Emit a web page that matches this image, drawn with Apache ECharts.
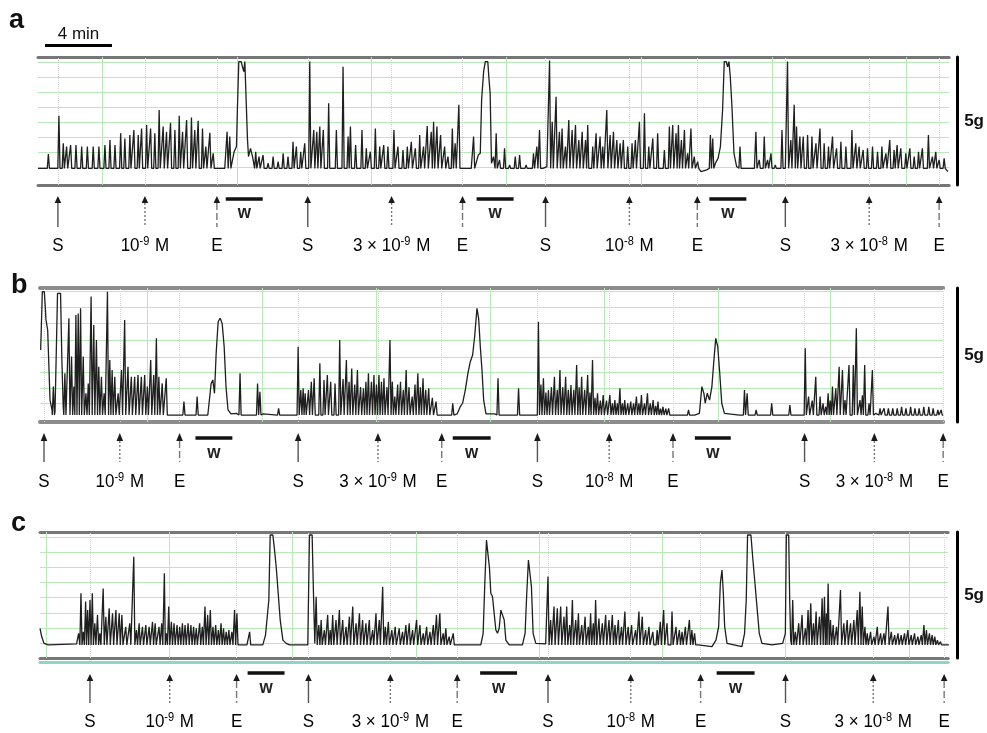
<!DOCTYPE html>
<html>
<head>
<meta charset="utf-8">
<script src="https://cdn.jsdelivr.net/npm/echarts/dist/echarts.min.js"></script>
<style>html,body{margin:0;padding:0;background:#fff}#chart{width:987px;height:733px}</style>
</head>
<body>
<div id="chart"></div>
<script>
// ---------------- DATA (time in min from left edge of each trace, force in g) ----------------
const eventKinds  = ['S','C','E','S','C','E','S','C','E','S','C','E'];
const eventLabels = ['S','10|-9','E','S','3 × 10|-9','E','S','10|-8','E','S','3 × 10|-8','E'];
const forceScaleG = 5;          // vertical scale bar
const timeScaleMin = 4;         // horizontal scale bar
const timeScaleStart = 0.42;

// ---- panel a
const aEvents = [1.19, 6.39, 10.69, 16.12, 21.13, 25.37, 30.33, 35.34, 39.40, 44.66, 49.67, 53.85];
const aWash = [[11.22, 13.43], [26.21, 28.42], [40.12, 42.33]];
const aBase = 0.65;
const aSpikes = [[0.62,1.21],[1.25,2.70],[1.51,1.63],[1.71,1.50],[1.95,1.56],[2.27,1.56],[2.61,1.50],[2.95,1.50],[3.30,1.50],[3.64,1.50],[4.00,1.56],[4.30,1.76],[4.60,1.56],[4.94,2.02],[5.19,1.82],[5.49,1.95],[5.73,2.15],[5.99,1.95],[6.19,2.21],[6.49,2.34],[6.73,2.21],[6.98,2.02],[7.24,2.93],[7.48,2.28],[7.68,2.08],[7.92,2.43],[8.18,2.15],[8.44,2.70],[8.64,2.08],[8.88,2.54],[9.17,2.64],[9.37,2.15],[9.57,2.51],[9.83,2.21],[10.03,1.50],[10.27,2.04],[10.47,1.24],
  [11.30,2.08],[11.46,1.89],
  [13.01,1.30],[13.21,1.11],[13.45,1.17],[13.75,0.85],[14.05,1.11],[14.35,0.91],[14.65,1.24],[14.94,1.11],[15.24,1.69],[15.44,1.50],[15.70,1.30],[15.94,1.63],
  [16.24,4.82],[16.48,2.15],[16.66,2.08],[16.84,2.28],[17.05,2.15],[17.37,3.19],[17.83,2.15],[18.23,4.62],[18.53,1.89],[18.67,2.28],[18.98,1.56],[19.36,2.15],[19.62,1.43],[19.86,1.30],[20.16,2.21],[20.42,1.50],[20.66,1.56],[20.91,1.50],[21.27,2.15],[21.51,1.50],[21.81,1.37],[22.07,1.50],[22.31,1.69],[22.55,1.43],[22.81,1.95],[23.04,1.50],[23.26,2.30],[23.50,2.08],[23.64,2.47],[23.84,2.28],[24.06,1.95],[24.30,1.50],[24.50,1.11],[24.76,2.21],[24.93,1.63],[25.15,3.13],
  [26.03,1.89],
  [27.38,2.02],[27.58,0.98],[27.88,1.43],[28.18,0.78],[28.52,1.11],[28.78,1.17],[29.17,0.78],[29.61,1.24],[29.81,1.50],[29.97,2.15],
  [30.57,4.86],[30.73,2.47],[30.96,3.45],[31.16,2.08],[31.32,2.21],[31.52,1.50],[31.72,2.54],[31.92,2.15],[32.12,2.34],[32.32,1.76],[32.52,2.08],[32.72,1.76],[32.85,2.34],[33.15,1.50],[33.35,2.02],[33.59,1.89],[33.75,1.50],[33.99,2.93],[34.19,1.95],[34.39,2.08],[34.59,1.76],[34.79,1.63],[34.98,1.76],[35.24,1.50],[35.50,1.63],[35.70,1.76],[35.94,2.47],[36.24,2.80],[36.50,1.50],[36.74,1.82],[37.03,2.02],[37.43,1.37],[37.73,2.28],[37.93,2.34],[38.13,2.02],[38.27,2.34],[38.45,1.76],[38.63,2.15],[38.82,1.24],[39.02,2.21],[39.22,1.11],[39.42,0.91],
  [40.18,1.95],[40.32,1.82],
  [41.95,1.50],
  [42.90,2.08],[43.10,0.98],[43.40,1.89],[43.60,0.98],[43.80,1.24],[44.06,0.78],[44.46,2.15],
  [44.79,4.82],[44.99,1.76],[45.19,3.13],[45.33,2.28],[45.53,1.89],[45.73,1.89],[45.99,1.95],[46.25,1.89],[46.49,1.63],[46.73,2.21],[46.98,1.63],[47.24,1.50],[47.48,1.89],[47.72,1.43],[47.98,1.69],[48.28,1.50],[48.64,2.15],[48.87,1.63],[49.07,1.50],[49.31,1.37],[49.57,1.43],[49.87,1.50],[50.17,1.30],[50.43,1.50],[50.67,1.24],[50.90,1.76],[51.16,1.37],[51.34,1.56],[51.56,1.43],[51.86,1.24],[52.10,1.43],[52.36,1.11],[52.62,1.30],[52.85,1.43],[53.21,1.95],[53.45,1.11],[53.65,1.30],[53.85,0.98],[54.15,1.04]];
const aPath = [[0,0.65],[10.67,0.65],[11.16,0.65],[11.60,0.72],[11.72,1.30],[11.86,1.50],[11.92,3.06],[12.00,4.82],[12.14,4.82],[12.22,4.62],[12.30,4.43],[12.36,4.82],[12.46,4.82],[12.52,1.76],[12.58,1.11],[12.70,1.43],[12.82,1.11],
  [25.31,0.65],[25.89,0.65],[26.31,1.17],[26.43,1.24],[26.51,3.32],[26.63,4.43],[26.73,4.82],[26.88,4.82],[26.94,4.23],[27.02,3.58],[27.10,0.85],[27.22,1.11],[30.17,0.65],[30.41,0.72],
  [39.62,0.52],[39.96,0.59],[40.48,0.85],[40.64,1.04],[40.78,1.50],[40.91,2.93],[41.01,4.82],[41.13,4.82],[41.21,4.62],[41.29,4.82],[41.37,4.23],[41.47,3.06],[41.59,1.24],[41.75,0.72],[42.15,0.65],[42.81,0.65],[44.66,0.65],[54.37,0.52]];
const aGridLevels = [0.70,1.29,1.88,2.46,3.05,3.63,4.22,4.80];
const aGridTimes = [3.82,11.88,19.94,28.00,36.06,43.88,51.88];

// ---- panel b
const bEvents = [0.24, 4.78, 8.36, 15.46, 20.24, 24.06, 29.79, 34.09, 37.91, 45.79, 49.97, 54.09];
const bWash = [[9.31, 11.52], [24.72, 26.99], [39.22, 41.37]];
const bBase = 0.26;
const bSpikes = [[0.80,1.32],[1.49,1.82],[1.73,3.87],[1.89,2.44],[2.03,1.32],[2.15,3.99],[2.29,4.05],[2.43,4.24],[2.59,2.44],[2.75,1.07],[2.89,1.44],[3.06,4.68],[3.22,3.62],[3.38,3.06],[3.52,2.06],[3.68,1.69],[3.84,1.07],[4.04,4.86],[4.18,2.31],[4.32,1.94],[4.48,1.69],[4.68,1.07],[4.88,1.94],[5.07,3.81],[5.27,2.06],[5.47,1.69],[5.67,1.69],[5.87,1.75],[6.07,1.69],[6.27,1.75],[6.43,1.32],[6.63,2.31],[6.81,1.75],[6.97,3.12],[7.12,1.69],[7.32,1.44],[7.56,1.63],
  [8.62,0.76],[9.41,0.95],
  [11.98,1.82],[13.03,1.44],[13.17,1.13],[14.29,0.51],
  [15.46,2.81],[15.62,1.19],[15.76,1.26],[15.88,1.07],[16.08,1.19],[16.25,1.50],[16.42,1.63],[16.76,2.19],[17.01,1.57],[17.21,1.75],[17.41,1.50],[17.67,1.44],[17.95,3.06],[18.15,1.60],[18.35,2.31],[18.51,1.50],[18.67,2.00],[18.85,1.40],[19.01,1.94],[19.20,1.30],[19.37,1.26],[19.52,1.50],[19.67,1.82],[19.85,1.50],[20.00,1.75],[20.15,1.40],[20.30,1.75],[20.45,1.50],[20.60,1.63],[20.78,1.30],[20.96,3.06],[21.10,1.50],[21.25,0.95],[21.42,1.40],[21.59,1.50],[21.76,1.20],[21.93,1.94],[22.10,1.30],[22.29,0.95],[22.46,1.40],[22.63,1.82],[22.78,1.30],[22.94,1.63],[23.10,1.20],[23.28,1.26],[23.50,0.90],[23.72,0.76],
  [24.72,0.70],[27.43,1.63],[28.66,1.26],
  [29.85,3.74],[30.00,1.40],[30.15,1.63],[30.30,1.10],[30.45,1.19],[30.63,1.30],[30.81,1.69],[30.98,1.20],[31.14,1.94],[31.31,1.30],[31.48,1.69],[31.64,1.20],[31.80,1.38],[31.97,1.20],[32.14,2.13],[32.29,1.30],[32.44,1.69],[32.62,1.20],[32.80,1.75],[32.94,1.10],[33.09,2.31],[33.24,0.90],[33.39,1.07],[33.56,0.80],[33.73,1.01],[33.93,0.80],[34.13,1.01],[34.28,0.70],[34.43,0.82],[34.58,0.70],[34.73,1.26],[34.88,0.70],[35.02,0.82],[35.20,0.70],[35.38,0.76],[35.55,0.70],[35.72,0.95],[35.87,0.70],[36.02,1.01],[36.20,0.70],[36.38,1.07],[36.55,0.70],[36.72,0.82],[36.87,0.60],[37.01,0.76],[37.16,0.50],[37.31,0.57],[37.48,0.50],[37.65,0.51],
  [38.84,0.45],
  [42.19,1.19],[42.35,1.07],[42.89,0.45],[43.82,0.70],[44.91,0.63],
  [45.83,2.75],[46.03,0.95],[46.25,0.80],[46.46,1.69],[46.72,0.95],[46.90,0.70],[47.06,0.57],[47.20,1.07],[47.33,0.80],[47.46,1.32],[47.66,1.26],[47.86,2.06],[48.06,1.94],[48.21,0.82],[48.45,2.13],[48.71,2.13],[48.89,3.50],[49.11,0.82],[49.25,1.00],[49.39,2.13],[49.65,0.70],[49.85,1.94],
  [50.31,0.51],[50.55,0.51],[50.81,0.51],[51.07,0.51],[51.34,0.51],[51.60,0.57],[51.86,0.51],[52.14,0.57],[52.40,0.51],[52.65,0.51],[52.93,0.57],[53.23,0.57],[53.49,0.51],[53.77,0.45],[53.97,0.45]];
const bPath = [[0.04,2.69],[0.14,4.86],[0.26,4.86],[0.36,3.81],[0.46,3.43],[0.52,2.31],[0.60,0.82],[0.72,0.45],[0.90,0.39],[1.00,0.32],[1.05,4.80],[1.23,4.80],[1.31,2.31],[1.39,0.57],
  [7.76,0.26],[8.36,0.26],[9.65,0.26],[10.05,0.26],[10.25,1.44],[10.35,1.57],[10.45,1.07],[10.55,2.56],[10.67,3.74],[10.79,3.87],[10.91,3.68],[11.03,2.81],[11.14,1.32],[11.26,0.45],[11.44,0.30],[11.78,0.32],[12.14,0.30],[13.37,0.30],[15.12,0.26],
  [23.98,0.26],[24.52,0.26],[24.98,0.30],[25.17,0.57],[25.31,0.70],[25.47,1.19],[25.63,1.82],[25.77,2.25],[25.91,2.50],[26.03,3.18],[26.17,4.24],[26.27,3.87],[26.37,2.81],[26.47,1.94],[26.57,0.82],[26.71,0.30],[27.23,0.30],[27.66,0.26],[28.46,0.26],[28.86,0.26],[29.65,0.26],
  [37.91,0.26],[38.61,0.26],[39.20,0.26],[39.49,0.32],[39.64,1.32],[39.76,1.07],[39.84,0.70],[39.96,1.07],[40.10,0.82],[40.24,1.32],[40.36,2.31],[40.47,3.12],[40.59,2.81],[40.71,1.82],[40.83,0.70],[40.99,0.32],[41.89,0.26],[45.61,0.26],[50.05,0.32],[54.09,0.26]];
const bGridLevels = [0.71,1.27,1.87,2.43,3.06,3.69,4.29,4.88];
const bGridTimes = [6.45,13.31,20.12,26.99,33.79,40.60,47.34];

// ---- panel c
const cEvents = [2.99, 7.76, 11.76, 16.06, 20.96, 24.96, 30.39, 35.34, 39.52, 44.60, 49.85, 54.09];
const cWash = [[12.42, 14.63], [26.33, 28.54], [40.48, 42.75]];
const cBase = 0.52;
const cSpikes = [[2.45,2.57],[2.59,1.04],[2.73,2.24],[2.85,1.90],[2.99,2.30],[3.13,2.57],[3.28,1.38],[3.44,1.71],[3.58,0.98],[3.78,2.76],[3.94,1.64],[4.14,1.97],[4.34,1.77],[4.54,1.90],[4.74,1.77],[4.90,1.71],[5.13,1.24],[5.37,1.38],[5.61,4.02],[5.77,1.11],[5.93,1.38],[6.13,1.24],[6.33,1.31],[6.53,1.24],[6.73,1.44],[6.89,1.38],[7.12,1.24],[7.28,1.38],[7.44,3.36],[7.56,0.98],[7.70,2.04],[7.86,1.44],[8.02,1.38],[8.20,1.31],[8.36,1.24],[8.52,1.38],[8.68,1.31],[8.86,1.38],[9.03,1.31],[9.19,1.24],[9.35,1.18],[9.55,1.38],[9.71,1.24],[9.87,2.04],[10.03,1.71],[10.19,1.90],[10.35,1.24],[10.51,1.31],[10.67,1.11],[10.83,1.38],[10.98,1.18],[11.14,1.04],[11.30,1.11],[11.48,1.04],[11.64,1.90],[11.78,1.77],
  [12.54,1.04],
  [16.52,2.43],[16.68,1.31],[16.82,1.51],[17.01,1.11],[17.21,1.71],[17.36,1.11],[17.51,1.71],[17.71,1.51],[17.91,1.90],[18.11,1.51],[18.31,1.24],[18.51,1.64],[18.71,2.04],[18.91,1.38],[19.11,1.77],[19.30,1.51],[19.50,1.38],[19.70,1.51],[19.90,1.11],[20.10,1.77],[20.30,1.51],[20.50,2.83],[20.66,1.24],[20.84,1.44],[21.05,1.11],[21.25,1.24],[21.49,1.18],[21.69,1.04],[21.89,1.31],[22.09,1.38],[22.29,1.11],[22.53,1.51],[22.73,1.31],[22.93,0.98],[23.13,1.24],[23.33,1.04],[23.53,1.31],[23.72,1.71],[23.92,1.77],[24.12,0.98],[24.28,1.18],[24.48,0.85],[24.72,0.98],
  [30.39,3.23],[30.55,1.51],[30.75,2.04],[30.95,1.97],[31.15,2.04],[31.35,1.64],[31.51,2.04],[31.69,1.31],[31.85,2.30],[32.05,1.51],[32.21,1.77],[32.41,1.31],[32.61,1.64],[32.80,1.24],[32.94,1.77],[33.10,1.38],[33.24,2.30],[33.44,1.57],[33.64,1.38],[33.84,1.71],[34.04,1.51],[34.24,1.71],[34.40,1.31],[34.60,1.51],[34.79,1.24],[34.99,1.84],[35.19,1.24],[35.39,1.31],[35.63,1.11],[35.83,1.84],[36.03,1.64],[36.23,1.11],[36.43,1.24],[36.66,1.04],[36.92,1.11],[37.11,1.44],[37.31,1.90],[37.51,1.38],[37.81,1.84],[38.05,1.24],[38.25,1.11],[38.41,1.04],[38.61,1.24],[38.85,1.51],[39.00,1.11],[39.16,0.98],
  [45.03,2.30],[45.19,1.04],[45.39,1.38],[45.59,1.71],[45.79,1.18],[45.95,1.90],[46.11,2.17],[46.27,1.38],[46.43,1.84],[46.63,1.64],[46.79,2.37],[46.93,2.43],[47.05,1.77],[47.15,2.96],[47.29,1.51],[47.45,1.31],[47.65,1.24],[47.89,2.70],[48.09,1.38],[48.29,1.51],[48.49,1.38],[48.69,1.51],[48.89,1.90],[49.05,2.63],[49.19,2.04],[49.35,1.24],[49.49,0.98],[49.69,1.04],[49.89,0.85],[50.09,1.24],[50.29,0.98],[50.49,0.98],[50.73,2.04],[50.93,1.04],[51.13,0.91],[51.33,0.98],[51.52,0.91],[51.72,0.98],[51.92,1.11],[52.12,0.91],[52.32,0.98],[52.52,0.85],[52.72,0.91],[52.88,1.31],[53.03,1.11],[53.21,0.98],[53.37,0.91],[53.53,0.85],[53.69,0.71],[53.87,0.65]];
const cPath = [[0.00,1.18],[0.10,0.85],[0.24,0.58],[0.50,0.52],[2.19,0.56],[2.31,0.98],
  [11.90,0.58],[12.38,0.52],[12.68,0.52],[13.33,0.52],[13.49,0.91],[13.59,0.98],[13.69,2.30],[13.77,4.88],[13.93,4.88],[14.01,4.42],[14.13,3.62],[14.25,2.57],[14.37,1.51],[14.53,0.71],[14.73,0.58],[14.93,0.52],[16.02,0.52],[16.12,4.88],[16.28,4.88],[16.36,2.57],[16.44,0.58],
  [24.88,0.56],[26.37,0.52],[26.51,0.98],[26.61,2.96],[26.71,4.68],[26.81,4.62],[26.89,3.56],[26.97,2.57],[27.07,2.43],[27.17,1.77],[27.27,1.11],[27.37,0.98],[27.47,1.18],[27.57,1.90],[27.67,1.97],[27.77,1.51],[27.87,0.71],[28.07,0.52],[28.86,0.52],[29.02,0.98],[29.12,2.57],[29.22,3.89],[29.32,3.96],[29.40,2.83],[29.50,0.98],[29.66,0.58],[30.25,0.56],
  [39.36,0.52],[40.20,0.45],[40.44,0.71],[40.60,1.24],[40.70,2.96],[40.80,3.49],[40.88,2.57],[40.96,1.24],[41.10,0.58],[41.99,0.45],[42.15,0.98],[42.25,2.30],[42.33,4.88],[42.53,4.88],[42.65,3.89],[42.79,2.83],[42.91,1.90],[43.03,0.98],[43.19,0.58],[43.79,0.52],[44.43,0.58],[44.59,0.98],[44.65,4.88],[44.79,4.88],[44.85,2.30],[44.91,0.71],[54.07,0.52],[54.37,0.52]];
const cGridLevels = [0.60,1.19,1.79,2.42,3.02,3.61,4.21,4.80];
const cGridTimes = [0.36,7.76,15.10,22.51,29.85,37.25,44.60,51.99];

// ---------------- LAYOUT / STYLE ----------------
const FONT = "'Liberation Sans', Arial, Helvetica, sans-serif";
const panels = [
  {letter:'a', letterPos:[9,34], span:54.45, grid:{left:38, top:57, width:912, height:128},
   events:aEvents, wash:aWash, spikes:aSpikes, path:aPath, base:aBase, levels:aGridLevels, times:aGridTimes,
   L:{tip:11, head:18, stem:42, label:61, bar:14, w:28}, barOffset:8,
   topColor:'#767676', botColor:'#767676', borderW:3, scale:true},
  {letter:'b', letterPos:[11,299], span:54.09, grid:{left:40, top:288, width:906, height:134},
   events:bEvents, wash:bWash, spikes:bSpikes, path:bPath, base:bBase, levels:bGridLevels, times:bGridTimes,
   L:{tip:11, head:19, stem:40, label:60, bar:16, w:31}, barOffset:14,
   topColor:'#8c8c8c', botColor:'#8c8c8c', borderW:4},
  {letter:'c', letterPos:[11,537], span:54.33, grid:{left:40, top:532, width:910, height:126},
   events:cEvents, wash:cWash, spikes:cSpikes, path:cPath, base:cBase, levels:cGridLevels, times:cGridTimes,
   L:{tip:16, head:23, stem:45, label:64, bar:15, w:30}, barOffset:9,
   topColor:'#777', botColor:'#777', borderW:3, teal:true}
];

function buildTrace(spikes, path, base) {
  const pts = [];
  spikes.forEach(([t, h]) => { pts.push([t - 0.065, base]); pts.push([t, h]); pts.push([t + 0.065, base]); });
  path.forEach(p => pts.push([p[0], p[1]]));
  pts.sort((p, q) => p[0] - q[0]);
  return pts;
}

function labelRich(k) {
  const s = eventLabels[k];
  if (s.indexOf('|') < 0) return '{n|' + s + '}';
  const parts = s.split('|');
  return '{n|' + parts[0] + '}{s|' + parts[1] + '}{n| M}';
}
const RICH = {
  n: {fontSize: 17, fontFamily: FONT, color: '#1a1a1a', lineHeight: 19},
  s: {fontSize: 11, fontFamily: FONT, color: '#666', lineHeight: 19, verticalAlign: 'top', padding:[0,1,0,0]}
};

const grids = [], xAxes = [], yAxes = [], series = [], graphics = [];
panels.forEach((P, i) => {
  grids.push(P.grid);
  const xi = xAxes.length;
  const axBase = {gridIndex: i, type: 'value', min: 0, max: P.span, axisTick: {show: false}, axisLabel: {show: false}, splitLine: {show: false}};
  xAxes.push(Object.assign({}, axBase, {position: 'bottom', axisLine: {show: true, onZero: false, lineStyle: {color: P.botColor, width: P.borderW}}}));
  xAxes.push(Object.assign({}, axBase, {position: 'top', axisLine: {show: true, onZero: false, lineStyle: {color: P.topColor, width: P.borderW}}}));
  if (P.teal) xAxes.push(Object.assign({}, axBase, {position: 'bottom', offset: 4, axisLine: {show: true, onZero: false, lineStyle: {color: '#8fd3c9', width: 3}}}));
  const yi = yAxes.length;
  yAxes.push({gridIndex: i, type: 'value', min: 0, max: forceScaleG, show: false});
  yAxes.push({gridIndex: i, type: 'value', min: 0, max: forceScaleG, position: 'right', offset: P.barOffset,
    axisLine: {show: true, onZero: false, lineStyle: {color: '#000', width: 3}}, axisTick: {show: false}, axisLabel: {show: false}, splitLine: {show: false},
    name: forceScaleG + 'g', nameLocation: 'middle', nameRotate: 0, nameGap: 7,
    nameTextStyle: {fontFamily: FONT, fontWeight: 'bold', fontSize: 17, color: '#111', padding: [10, 0, 0, 0]}});

  // grid lines (green) and event marker lines (dotted grey)
  series.push({type: 'line', xAxisIndex: xi, yAxisIndex: yi, data: [[0, 0]], symbol: 'none', silent: true, lineStyle: {opacity: 0}, z: 1,
    markLine: {silent: true, symbol: ['none', 'none'], label: {show: false}, animation: false,
      lineStyle: {color: '#b8eab8', width: 1, type: 'solid'},
      data: P.levels.map(v => ({yAxis: v})).concat(P.times.map(t => ({xAxis: t})))}});
  series.push({type: 'line', xAxisIndex: xi, yAxisIndex: yi, data: [[0, 0]], symbol: 'none', silent: true, lineStyle: {opacity: 0}, z: 1,
    markLine: {silent: true, symbol: ['none', 'none'], label: {show: false}, animation: false,
      lineStyle: {color: '#d6d6d6', width: 1, type: 'dotted'},
      data: P.events.map(t => ({xAxis: t}))}});

  // trace
  series.push({type: 'line', xAxisIndex: xi, yAxisIndex: yi, data: buildTrace(P.spikes, P.path, P.base),
    symbol: 'none', showSymbol: false, silent: true, z: 10, lineStyle: {color: '#1f1f1f', width: 1.3}});

  // arrows + labels
  series.push({type: 'custom', xAxisIndex: xi, yAxisIndex: yi, clip: false, silent: true, z: 12,
    data: P.events.map((t, k) => [t, k]),
    renderItem: function (params, api) {
      const k = api.value(1);
      const c = api.coord([api.value(0), 0]);
      const x = c[0], yb = c[1], L = P.L;
      const kind = eventKinds[k];
      const dash = kind === 'S' ? null : (kind === 'C' ? [2, 2] : [7, 3]);
      return {type: 'group', children: [
        {type: 'polygon', shape: {points: [[x, yb + L.tip], [x - 3.3, yb + L.head], [x + 3.3, yb + L.head]]}, style: {fill: '#1a1a1a'}},
        {type: 'line', shape: {x1: x, y1: yb + L.head, x2: x, y2: yb + L.stem}, style: {stroke: kind === 'S' ? '#555' : '#777', lineWidth: 1.4, lineDash: dash}},
        {type: 'text', x: x, y: yb + L.label, scaleY: 1.1, style: {text: labelRich(k), rich: RICH, align: 'center', verticalAlign: 'middle'}}
      ]};
    }});

  // wash bars
  series.push({type: 'custom', xAxisIndex: xi, yAxisIndex: yi, clip: false, silent: true, z: 12,
    data: P.wash,
    renderItem: function (params, api) {
      const a = api.coord([api.value(0), 0]), b = api.coord([api.value(1), 0]);
      const L = P.L;
      return {type: 'group', children: [
        {type: 'rect', shape: {x: a[0], y: a[1] + L.bar - 1.75, width: b[0] - a[0], height: 3.5}, style: {fill: '#111'}},
        {type: 'text', x: (a[0] + b[0]) / 2, y: a[1] + L.w, scaleY: 1.05, style: {text: 'w', font: 'bold 17px ' + FONT, fill: '#222', align: 'center', verticalAlign: 'middle'}}
      ]};
    }});

  if (P.scale) {
    series.push({type: 'custom', xAxisIndex: xi, yAxisIndex: yi, clip: false, silent: true, z: 12,
      data: [[timeScaleStart, timeScaleStart + timeScaleMin]],
      renderItem: function (params, api) {
        const a = api.coord([api.value(0), forceScaleG]), b = api.coord([api.value(1), forceScaleG]);
        return {type: 'group', children: [
          {type: 'rect', shape: {x: a[0], y: a[1] - 13, width: b[0] - a[0], height: 3}, style: {fill: '#000'}},
          {type: 'text', x: (a[0] + b[0]) / 2, y: a[1] - 23, style: {text: timeScaleMin + ' min', font: '17px ' + FONT, fill: '#111', align: 'center', verticalAlign: 'middle'}}
        ]};
      }});
  }

  graphics.push({type: 'text', x: P.letterPos[0], y: P.letterPos[1], style: {text: P.letter, font: 'bold 27px ' + FONT, fill: '#111', verticalAlign: 'bottom'}});
});

const chart = echarts.init(document.getElementById('chart'), null, {renderer: 'canvas'});
chart.setOption({
  animation: false,
  backgroundColor: '#fff',
  grid: grids,
  xAxis: xAxes,
  yAxis: yAxes,
  series: series,
  graphic: graphics
});
</script>
</body>
</html>
